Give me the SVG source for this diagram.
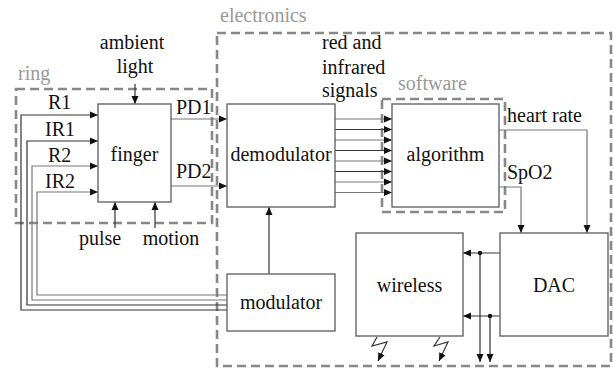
<svg xmlns="http://www.w3.org/2000/svg" width="613" height="368" viewBox="0 0 613 368">
<defs>
<marker id="ah" viewBox="0 0 8 8" refX="8" refY="4" markerWidth="8" markerHeight="8" markerUnits="userSpaceOnUse" orient="auto">
<path d="M0,0.5 L8,4 L0,7.5 Z" fill="#111"/>
</marker>
</defs>
<style>
.t{font-family:'Liberation Serif',serif !important;font-size:20px;fill:#111}
.grp{fill:#999}
.box{fill:#fff;stroke:#666;stroke-width:1.4}
.dash{fill:none;stroke:#888;stroke-width:2.6;stroke-dasharray:9 5}
.c{fill:none;stroke:#333;stroke-width:1.2}
.g{fill:none;stroke:#777;stroke-width:1.2}
.m{marker-end:url(#ah)}
</style>

<g id="groups">
<rect class="dash" x="16" y="89" width="196" height="134"/>
<text class="t grp" x="18" y="80" style="font-family:'Liberation Serif'">ring</text>
<rect class="dash" x="217" y="33" width="394" height="333"/>
<text class="t grp" x="220" y="22" style="font-family:'Liberation Serif'">electronics</text>
<rect class="dash" x="382" y="99" width="123" height="113"/>
<text class="t grp" x="398" y="90" style="font-family:'Liberation Serif'">software</text>
</g>

<g id="connectors">
<path class="c m" d="M227,310 H21 V115 H98"/>
<path class="c m" d="M227,305 H27 V141 H98"/>
<path class="g m" d="M227,300 H32 V166 H98"/>
<path class="g m" d="M227,295 H37 V192 H98"/>
<path class="c m" d="M135,84 V104"/>
<path class="c m" d="M115,228 V202"/>
<path class="c m" d="M155,228 V202"/>
<path class="g m" d="M171,119 H227"/>
<path class="g m" d="M171,186 H227"/>
<path class="c m" d="M269,274 V207"/>
<path class="g m" d="M335,119 H392"/>
<path class="c m" d="M335,129.5 H392"/>
<path class="g m" d="M335,140 H392"/>
<path class="c m" d="M335,150.5 H392"/>
<path class="g m" d="M335,161 H392"/>
<path class="c m" d="M335,171.5 H392"/>
<path class="g m" d="M335,182 H392"/>
<path class="g m" d="M335,192.5 H392"/>
<path class="g m" d="M499,130 H587 V233"/>
<path class="g m" d="M499,187 H521 V233"/>
<path class="c m" d="M500,253 H463"/>
<path class="c m" d="M500,316 H463"/>
<path class="c m" d="M480,253 V362"/>
<path class="c m" d="M490,316 V362"/>
<circle cx="480" cy="253" r="2.2" fill="#111"/>
<circle cx="490" cy="316" r="2.2" fill="#111"/>
<path class="c m" d="M377,337 L372,346 L387,342 L378,361"/>
<path class="c m" d="M440,337 L434,346 L448,342 L439,361"/>
</g>

<g id="labels">
<text class="t" x="132" y="49" text-anchor="middle" style="font-family:'Liberation Serif'">ambient</text>
<text class="t" x="135" y="73" text-anchor="middle" style="font-family:'Liberation Serif'">light</text>
<text class="t" x="48" y="109" style="font-family:'Liberation Serif'">R1</text>
<text class="t" x="45" y="136" style="font-family:'Liberation Serif'">IR1</text>
<text class="t" x="48" y="162" style="font-family:'Liberation Serif'">R2</text>
<text class="t" x="45" y="188" style="font-family:'Liberation Serif'">IR2</text>
<text class="t" x="176" y="114" style="font-family:'Liberation Serif'">PD1</text>
<text class="t" x="176" y="178" style="font-family:'Liberation Serif'">PD2</text>
<text class="t" x="100" y="245" text-anchor="middle" style="font-family:'Liberation Serif'">pulse</text>
<text class="t" x="171" y="245" text-anchor="middle" style="font-family:'Liberation Serif'">motion</text>
<text class="t" x="322" y="49" style="font-family:'Liberation Serif'">red and</text>
<text class="t" x="322" y="74" style="font-family:'Liberation Serif'">infrared</text>
<text class="t" x="322" y="97" style="font-family:'Liberation Serif'">signals</text>
<text class="t" x="507" y="122" style="font-family:'Liberation Serif'">heart rate</text>
<text class="t" x="507" y="179" style="font-family:'Liberation Serif'">SpO2</text>
</g>

<g id="finger">
<rect class="box" x="98" y="104" width="73" height="98"/>
<text class="t" x="134.5" y="161" text-anchor="middle" style="font-family:'Liberation Serif'">finger</text>
</g>
<g id="demodulator">
<rect class="box" x="227" y="104" width="108" height="103"/>
<text class="t" x="281" y="161" text-anchor="middle" style="font-family:'Liberation Serif'">demodulator</text>
</g>
<g id="algorithm">
<rect class="box" x="392" y="104" width="107" height="103"/>
<text class="t" x="445.5" y="161" text-anchor="middle" style="font-family:'Liberation Serif'">algorithm</text>
</g>
<g id="modulator">
<rect class="box" x="227" y="274" width="108" height="57"/>
<text class="t" x="281" y="309" text-anchor="middle" style="font-family:'Liberation Serif'">modulator</text>
</g>
<g id="wireless">
<rect class="box" x="356" y="233" width="107" height="103"/>
<text class="t" x="409.5" y="292" text-anchor="middle" style="font-family:'Liberation Serif'">wireless</text>
</g>
<g id="DAC">
<rect class="box" x="500" y="233" width="108" height="103"/>
<text class="t" x="554" y="292" text-anchor="middle" style="font-family:'Liberation Serif'">DAC</text>
</g>
</svg>
